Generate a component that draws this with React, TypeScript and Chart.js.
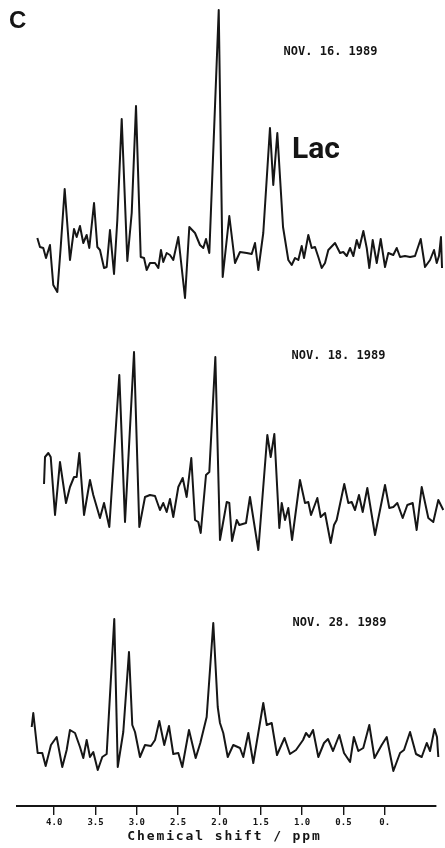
import React, { useEffect, useRef } from "react";
import { Chart, registerables } from "chart.js";

Chart.register(...registerables);

// ---- axis ----
const tickValues = [4.0, 3.5, 3.0, 2.5, 2.0, 1.5, 1.0, 0.5, 0];
const tickLabels = ["4.0", "3.5", "3.0", "2.5", "2.0", "1.5", "1.0", "0.5", "0."];
const axisTitle = "Chemical shift / ppm";
const panelLabel = "C";
const peakLabel = "Lac";
const dateLabels = ["NOV. 16. 1989", "NOV. 18. 1989", "NOV. 28. 1989"];

// ---- spectrum NOV. 16. 1989 (ppm, intensity a.u.) ----
const nov16Ppm = [
  4.204, 4.172, 4.132, 4.099, 4.051, 4.011, 3.962, 3.921, 3.873, 3.809,
  3.760, 3.728, 3.688, 3.648, 3.607, 3.575, 3.518, 3.478, 3.446, 3.397,
  3.365, 3.325, 3.276, 3.236, 3.183, 3.115, 3.062, 3.010, 2.953, 2.913,
  2.881, 2.841, 2.780, 2.740, 2.708, 2.680, 2.639, 2.599, 2.559, 2.498,
  2.417, 2.365, 2.296, 2.236, 2.196, 2.163, 2.123, 2.009, 1.961, 1.881,
  1.812, 1.752, 1.670, 1.610, 1.570, 1.530, 1.470, 1.389, 1.349, 1.300,
  1.231, 1.167, 1.126, 1.086, 1.046, 1.005, 0.977, 0.925, 0.884, 0.844,
  0.804, 0.763, 0.723, 0.683, 0.602, 0.541, 0.502, 0.460, 0.420, 0.380,
  0.339, 0.308, 0.259, 0.218, 0.187, 0.146, 0.097, 0.049, -0.003, -0.043,
  -0.103, -0.145, -0.185, -0.245, -0.306, -0.366, -0.435, -0.487, -0.548, -0.596,
  -0.629, -0.656, -0.680, -0.693,
];
const nov16Int = [
  9, 4.5, 4, -1, 5.5, -14.5, -18, 4.5, 33.5, -2,
  13.5, 9.5, 15, 6.5, 10.5, 4, 26.5, 4.5, 3, -6,
  -5.5, 13, -9, 18, 68.5, -2.5, 21.5, 75, -0.5, -1,
  -7, -3.5, -3.5, -6, 3, -3, 1.5, 0.5, -2, 9.5,
  -21, 14.5, 11.5, 5.5, 4, 8.5, 1.5, 123, -10.5, 20,
  -3.5, 2, 1.5, 1, 6.5, -7, 11.5, 64, 35.5, 61.5,
  14.5, -2, -4.5, -1, -2, 5, -1, 10.5, 4, 4.5,
  -0.5, -6, -3.5, 3, 6.5, 1.5, 2, 0, 4, 0,
  8, 4, 12.5, 4, -6, 8, -3.5, 8.5, -5.5, 1.5,
  0.5, 4, -0.5, 0, -0.5, 0, 8.5, -5.5, -2, 3,
  -3.5, 0, 9.5, -6,
];

// ---- spectrum NOV. 18. 1989 ----
const nov18Ppm = [
  4.123, 4.111, 4.071, 4.042, 3.990, 3.930, 3.857, 3.809, 3.760, 3.728,
  3.696, 3.639, 3.567, 3.527, 3.446, 3.397, 3.333, 3.212, 3.143, 3.034,
  2.970, 2.901, 2.841, 2.780, 2.720, 2.680, 2.639, 2.599, 2.559, 2.498,
  2.445, 2.397, 2.341, 2.296, 2.256, 2.227, 2.163, 2.123, 2.050, 1.994,
  1.912, 1.881, 1.848, 1.791, 1.760, 1.679, 1.631, 1.530, 1.421, 1.380,
  1.336, 1.276, 1.247, 1.207, 1.167, 1.122, 1.026, 0.965, 0.925, 0.892,
  0.816, 0.775, 0.723, 0.654, 0.614, 0.582, 0.490, 0.441, 0.400, 0.360,
  0.312, 0.267, 0.211, 0.118, -0.003, -0.055, -0.104, -0.152, -0.217, -0.273,
  -0.338, -0.386, -0.447, -0.527, -0.587, -0.648, -0.708,
];
const nov18Int = [
  12, 25.5, 27.5, 25.5, -3.5, 23, 2.5, 10.5, 15.5, 15.5,
  27.5, -3.5, 14, 6.5, -5, 2.5, -9.5, 66.5, -7, 78,
  -9.5, 5.5, 6.5, 6, -1, 2.5, -2, 4.5, -4.5, 10.5,
  15, 5.5, 25, -6, -7, -12.5, 16.5, 18, 75.5, -16,
  3, 2.5, -16.5, -6, -8.5, -7.5, 5.5, -21, 36.5, 25.5,
  37, -10, 2.5, -6, 0, -16, 14, 2.5, 3, -3.5,
  5, -4.5, -2.5, -17.5, -8.5, -6, 12, 2.5, 3, -1,
  6.5, -2, 10, -13.5, 11.5, 0, 0.5, 2.5, -5, 1.5,
  2.5, -11, 10.5, -5, -7, 4, -1,
];

// ---- spectrum NOV. 28. 1989 ----
const nov28Ppm = [
  4.272, 4.253, 4.200, 4.144, 4.103, 4.039, 3.970, 3.902, 3.849, 3.809,
  3.748, 3.688, 3.648, 3.607, 3.567, 3.527, 3.473, 3.418, 3.365, 3.273,
  3.231, 3.164, 3.095, 3.055, 3.022, 2.962, 2.901, 2.829, 2.780, 2.728,
  2.668, 2.611, 2.559, 2.498, 2.450, 2.369, 2.288, 2.232, 2.155, 2.075,
  2.021, 1.994, 1.954, 1.900, 1.833, 1.752, 1.712, 1.651, 1.591, 1.470,
  1.428, 1.368, 1.304, 1.213, 1.147, 1.074, 0.989, 0.953, 0.913, 0.868,
  0.804, 0.735, 0.687, 0.626, 0.550, 0.493, 0.420, 0.374, 0.320, 0.260,
  0.187, 0.124, 0.037, -0.024, -0.104, -0.185, -0.233, -0.306, -0.378, -0.447,
  -0.508, -0.548, -0.602, -0.632, -0.648,
];
const nov28Int = [
  11.5, 18.5, -1.5, -1.5, -8, 2.5, 6.5, -8.5, 0, 10,
  8.5, 1.5, -4, 5, -3.5, -1, -10, -3.5, -2, 65.5,
  -8.5, 9, 49, 12.5, 9, -3.5, 2.5, 2, 5, 14.5,
  2.5, 12, -2, -1.5, -8.5, 10, -4, 3.5, 16.5, 63.5,
  21.5, 13.5, 8.5, -3.5, 2.5, 1, -3.5, 8.5, -6.5, 23.5,
  12.5, 13.5, -2.5, 6, -2, 0, 5, 8.5, 6.5, 10,
  -3.5, 3.5, 5.5, -0.5, 7.5, -1.5, -6, 6.5, -0.5, 1,
  12.5, -4, 2.5, 6.5, -10.5, -1.5, 0, 9, -2, -3.5,
  3.5, -0.5, 10.5, 6.5, -3.5,
];

// vertical stacking of the three traces (a.u.)
const baselineOffsets = [275, 149, 28];

const spectra = [
  { ppm: nov16Ppm, int: nov16Int },
  { ppm: nov18Ppm, int: nov18Int },
  { ppm: nov28Ppm, int: nov28Int },
];

const textPlugin = {
  id: "spectrumText",
  afterDraw(chart: any) {
    const { ctx, chartArea, scales } = chart;
    const xs = scales.x;
    const ys = scales.y;
    const dateAnchors = [
      [0.656, 102],
      [0.56, 76],
      [0.548, 63.5],
    ];
    const lacAnchor = [0.832, 53];
    ctx.save();
    ctx.fillStyle = "#151515";
    ctx.textBaseline = "middle";

    ctx.font = "bold 24px 'Liberation Sans', Arial, sans-serif";
    ctx.textAlign = "left";
    ctx.fillText(panelLabel, chartArea.left - 8, chartArea.top + 21);

    ctx.font = "bold 12px 'DejaVu Sans Mono', monospace";
    ctx.textAlign = "center";
    dateLabels.forEach((t, i) => {
      ctx.fillText(
        t,
        xs.getPixelForValue(dateAnchors[i][0]),
        ys.getPixelForValue(baselineOffsets[i] + dateAnchors[i][1])
      );
    });

    ctx.font = "bold 30px Roboto, 'Liberation Sans', sans-serif";
    ctx.fillText(
      peakLabel,
      xs.getPixelForValue(lacAnchor[0]),
      ys.getPixelForValue(baselineOffsets[0] + lacAnchor[1])
    );

    ctx.font = "bold 13px 'DejaVu Sans Mono', monospace";
    try {
      (ctx as any).letterSpacing = "1.9px";
    } catch (e) {}
    ctx.fillText(axisTitle, (chartArea.left + chartArea.right) / 2 - 2, chartArea.bottom + 31);
    ctx.restore();
  },
};

export default function App() {
  const canvasRef = useRef<HTMLCanvasElement | null>(null);

  useEffect(() => {
    if (!canvasRef.current) return;
    const datasets = spectra.map((s, k) => ({
      label: dateLabels[k],
      data: s.ppm.map((x, i) => ({ x, y: s.int[i] + baselineOffsets[k] })),
      borderColor: "#161616",
      borderWidth: 2,
      borderJoinStyle: "round" as const,
      pointRadius: 0,
      tension: 0,
      fill: false,
      clip: false as any,
    }));

    const chart = new Chart(canvasRef.current, {
      type: "line",
      data: { datasets },
      options: {
        animation: false,
        responsive: true,
        maintainAspectRatio: false,
        layout: { padding: { left: 17, right: 9, top: 0, bottom: 0 } },
        plugins: {
          legend: { display: false },
          tooltip: { enabled: false },
          title: { display: false },
        },
        scales: {
          x: {
            type: "linear",
            reverse: true,
            min: -0.62,
            max: 4.45,
            afterBuildTicks: (axis: any) => {
              axis.ticks = tickValues.map((v) => ({ value: v }));
            },
            afterFit: (scale: any) => {
              scale.height = 42;
            },
            ticks: {
              autoSkip: false,
              maxRotation: 0,
              padding: 2,
              color: "#151515",
              font: { family: "'DejaVu Sans Mono', monospace", size: 9, weight: "bold" },
              callback: (value: any) => {
                const idx = tickValues.findIndex((v) => Math.abs(v - Number(value)) < 1e-6);
                return idx >= 0 ? tickLabels[idx] : "";
              },
            },
            grid: {
              drawOnChartArea: false,
              drawTicks: true,
              tickLength: 9,
              color: "#151515",
              lineWidth: 1.4,
            },
            border: { display: true, color: "#151515", width: 2 },
            title: { display: false },
          },
          y: {
            type: "linear",
            display: false,
            min: 0,
            max: 403,
          },
        },
      },
      plugins: [textPlugin],
    });
    return () => chart.destroy();
  }, []);

  return (
    <div style={{ position: "absolute", left: 0, top: 0, width: 445, height: 848, background: "#fff" }}>
      <canvas ref={canvasRef} />
    </div>
  );
}
